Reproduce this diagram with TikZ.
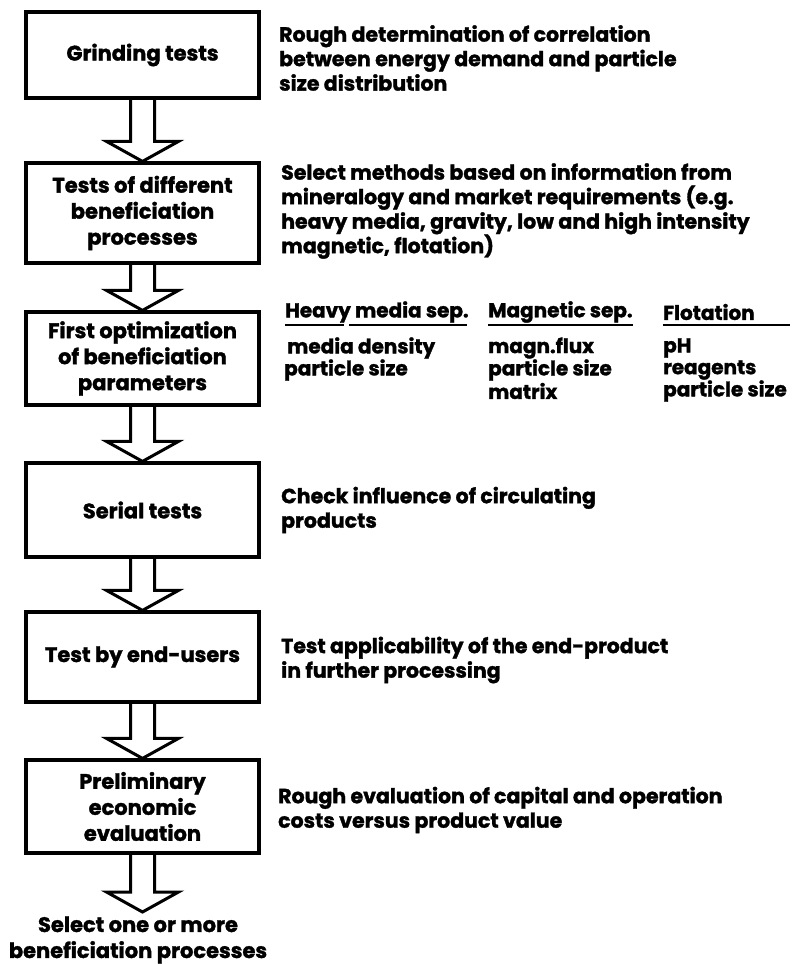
\documentclass[tikz,border=0pt]{standalone}
\usepackage{fontspec}
\setmainfont{Poppins}[BoldFeatures={FakeBold=1.5}]
\usetikzlibrary{calc}
\newcommand\boxfont{\bfseries\fontsize{21}{26}\selectfont}
\newcommand\notefont{\bfseries\fontsize{20.5}{24.5}\selectfont}
\newcommand\tabfont{\bfseries\fontsize{20}{22}\selectfont}
\tikzset{
  stage/.style={draw, line width=3.2pt, minimum width=233pt, inner sep=0pt, align=center, font=\boxfont},
  note/.style={anchor=west, inner sep=0pt, align=left, font=\notefont},
  tabcell/.style={anchor=west, inner sep=0pt, align=left, font=\tabfont},
  blockarrow/.style={draw, line width=3pt, line join=miter},
  uline/.style={line width=2.2pt},
}
\newcommand\flowarrow[2]{%
  \draw[blockarrow] ($(#1)+(-12,0)$) -- ($(#2)+(-12,-20)$) -- ($(#2)+(-36,-20)$) -- (#2)
    -- ($(#2)+(36,-20)$) -- ($(#2)+(12,-20)$) -- ($(#1)+(12,0)$);}
\begin{document}
\begin{tikzpicture}[x=1pt,y=-1pt]
\useasboundingbox (0,0) rectangle (796,964);
% stages
\node[stage, minimum height=86pt] (b1) at (142.5,55) {Grinding tests};
\node[stage, minimum height=100pt] (b2) at (142.5,213) {Tests of different\\beneficiation\\processes};
\node[stage, minimum height=93pt] (b3) at (142.5,358.5) {First optimization\\of beneficiation\\parameters};
\node[stage, minimum height=94pt] (b4) at (142.5,510) {Serial tests};
\node[stage, minimum height=90pt] (b5) at (142.5,657) {Test by end-users};
\node[stage, minimum height=93pt] (b6) at (142.5,806.5) {Preliminary\\economic\\evaluation};
\coordinate (tip) at (142.5,912);
\node[inner sep=0pt, align=center, font=\boxfont] (final) at (138,940) {Select one or more\\beneficiation processes};
% arrows
\flowarrow{b1.south}{b2.north}
\flowarrow{b2.south}{b3.north}
\flowarrow{b3.south}{b4.north}
\flowarrow{b4.south}{b5.north}
\flowarrow{b5.south}{b6.north}
\flowarrow{b6.south}{tip}
% notes
\node[note] (n1) at (279,58) {Rough determination of correlation\\between energy demand and particle\\size distribution};
\node[note] (n2) at (281,211) {Select methods based on information from\\mineralogy and market requirements (e.g.\\heavy media, gravity, low and high intensity\\magnetic, flotation)};
\node[tabcell] (h1) at (285,312) {Heavy media sep.};
\node[tabcell] (h2) at (488,312) {Magnetic sep.};
\node[tabcell] (h3) at (663,312) {Flotation};
\draw[uline] (285,325) -- (344,325);
\draw[uline] (349,325) -- (467,325);
\draw[uline] (488,325) -- (633,325);
\draw[uline] (663,325) -- (790,325);
\node[tabcell] (c1a) at (287,348) {media density};
\node[tabcell] (c1b) at (284,370) {particle size};
\node[tabcell] (c2a) at (488,348) {magn.flux};
\node[tabcell] (c2b) at (488,370) {particle size};
\node[tabcell] (c2c) at (488,391) {matrix};
\node[tabcell] (c3a) at (663,348) {pH};
\node[tabcell] (c3b) at (663,370) {reagents};
\node[tabcell] (c3c) at (663,391) {particle size};
\node[note] (n4) at (281,510) {Check influence of circulating\\products};
\node[note] (n5) at (281,660) {Test applicability of the end-product\\in further processing};
\node[note] (n6) at (278,810) {Rough evaluation of capital and operation\\costs versus product value};
\end{tikzpicture}
\end{document}
